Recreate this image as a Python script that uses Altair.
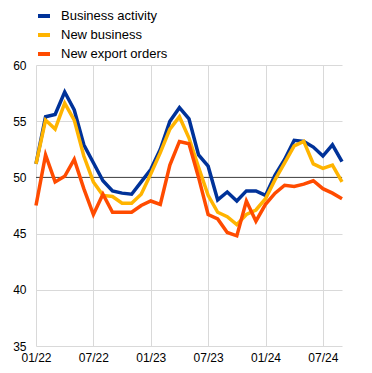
import altair as alt
import pandas as pd

series_names = ["Business activity", "New business", "New export orders"]
series_colors = ["#003299", "#FFB400", "#FF4B00"]
tick_labels = ["01/22", "07/22", "01/23", "07/23", "01/24", "07/24"]

business_activity = [51.2, 55.4, 55.6, 57.6, 56.0, 52.9, 51.3, 49.7, 48.8, 48.6, 48.5,
                     49.6, 50.7, 52.5, 55.0, 56.2, 55.2, 52.0, 51.0, 48.0, 48.7, 47.9,
                     48.8, 48.8, 48.4, 50.2, 51.6, 53.3, 53.2, 52.7, 51.9, 52.9, 51.4]
new_business = [51.2, 55.1, 54.3, 56.6, 55.1, 51.9, 49.6, 48.4, 48.3, 47.7, 47.7,
                48.5, 50.3, 52.2, 54.3, 55.4, 53.5, 50.9, 48.4, 46.9, 46.5, 45.8,
                46.7, 47.1, 48.1, 49.8, 51.3, 52.8, 53.2, 51.2, 50.8, 51.1, 49.6]
new_export_orders = [47.5, 52.0, 49.6, 50.1, 51.6, 49.0, 46.7, 48.5, 46.9, 46.9, 46.9,
                     47.5, 47.9, 47.6, 51.1, 53.2, 53.0, 50.0, 46.7, 46.3, 45.1, 44.8,
                     47.9, 46.1, 47.6, 48.6, 49.3, 49.2, 49.4, 49.7, 49.0, 48.6, 48.1]

rows = []
for name, vals in zip(series_names, [business_activity, new_business, new_export_orders]):
    for i, v in enumerate(vals):
        rows.append({"month": i, "value": v, "series": name})
df = pd.DataFrame(rows)

label_arr = "[" + ",".join("'" + t + "'" for t in tick_labels) + "]"

FONT = "Liberation Sans, Arial, sans-serif"

lines = alt.Chart(df).mark_line(strokeWidth=3.5, strokeJoin="miter").encode(
    x=alt.X("month:Q",
            scale=alt.Scale(domain=[0, 32], nice=False, zero=False),
            axis=alt.Axis(values=[0, 6, 12, 18, 24, 30], labelExpr=label_arr + "[round(datum.value/6)]",
                          title=None, grid=True, ticks=False, domain=False,
                          labelFontSize=12, labelFont=FONT, labelColor="#000",
                          labelPadding=6, gridColor="#d9d9d9", labelFlush=False)),
    y=alt.Y("value:Q",
            scale=alt.Scale(domain=[35, 60], nice=False, zero=False),
            axis=alt.Axis(values=[35, 40, 45, 50, 55, 60], title=None, grid=True,
                          ticks=False, domain=False, labelFontSize=12, labelFont=FONT,
                          labelColor="#000", labelPadding=10, gridColor="#d9d9d9")),
    color=alt.Color("series:N",
                    scale=alt.Scale(domain=series_names, range=series_colors),
                    legend=alt.Legend(title=None, orient="none", legendX=0, legendY=-57,
                                      symbolType="stroke", symbolSize=144, symbolStrokeWidth=4,
                                      symbolOffset=0,
                                      labelFontSize=13, labelFont=FONT, labelColor="#000",
                                      labelOffset=9, rowPadding=3, padding=0)),
    order=alt.Order("month:Q"),
)

ref_df = pd.DataFrame({"y": [50]})
rule = alt.Chart(ref_df).mark_rule(color="#404040", strokeWidth=1).encode(y="y:Q")

chart = alt.layer(rule, lines).properties(
    width=306, height=281,
    autosize=alt.AutoSizeParams(type="none"),
    padding={"left": 28, "top": 57, "right": 14, "bottom": 24},
    background="white",
).configure_view(stroke=None)

chart.save("out.html", embed_options={"renderer": "svg", "actions": False})
